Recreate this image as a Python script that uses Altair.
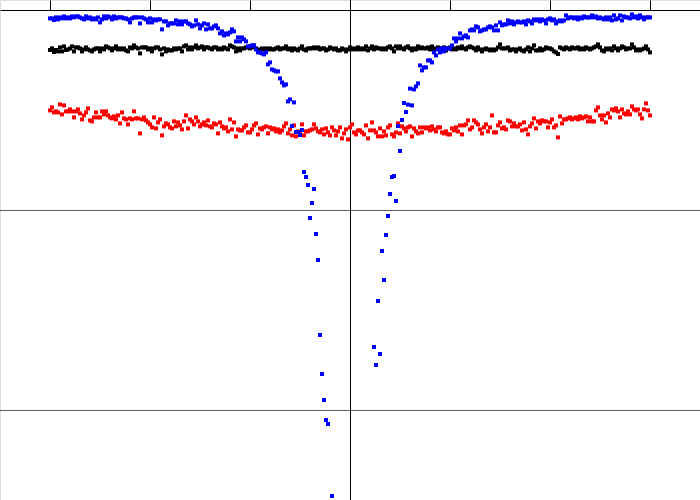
import altair as alt
import pandas as pd

# Sample grid: 301 equally spaced samples from -3 to 3
X_START = -3.0
X_STEP = 0.02

black_vals = [
    -2.0,-1.92,-2.1,-2.0,-2.07,-1.87,-2.07,-1.82,-2.0,-1.97,
    -1.92,-1.82,-2.07,-1.87,-1.87,-1.92,-2.07,-1.97,-1.87,-1.97,
    -2.02,-2.07,-1.97,-1.92,-1.92,-2.07,-1.92,-1.97,-1.82,-1.87,
    -1.92,-2.02,-1.92,-1.82,-1.97,-1.92,-1.97,-1.92,-2.02,-2.07,
    -1.87,-1.92,-1.77,-1.87,-1.92,-2.17,-1.87,-1.87,-1.87,-1.97,
    -1.92,-2.07,-1.92,-1.87,-1.87,-1.97,-2.22,-1.92,-2.07,-1.97,
    -2.02,-2.02,-1.92,-1.97,-1.92,-1.92,-2.07,-1.82,-1.77,-1.97,
    -1.87,-1.97,-1.87,-1.77,-1.92,-1.87,-1.82,-1.97,-1.87,-1.87,
    -1.92,-1.97,-1.87,-1.87,-1.97,-1.92,-1.97,-1.87,-1.92,-1.97,
    -1.77,-1.82,-1.87,-2.07,-1.92,-2.02,-1.92,-1.92,-1.87,-1.87,
    -1.92,-1.87,-1.77,-1.92,-2.07,-1.97,-1.92,-1.97,-1.92,-1.97,
    -1.92,-1.97,-1.97,-1.92,-1.87,-1.97,-1.92,-1.92,-1.82,-1.97,
    -1.92,-2.02,-1.92,-1.97,-2.02,-1.92,-1.82,-1.97,-2.02,-1.92,
    -1.92,-1.92,-1.87,-1.92,-1.87,-1.97,-1.92,-1.92,-2.02,-1.97,
    -1.87,-1.92,-1.97,-1.92,-2.02,-2.02,-1.92,-1.97,-2.07,-1.97,
    -1.87,-1.97,-1.92,-1.97,-1.87,-1.97,-1.92,-1.97,-1.82,-2.02,
    -1.92,-1.82,-1.97,-1.87,-1.92,-1.92,-1.97,-1.92,-1.97,-1.87,
    -1.82,-1.92,-2.07,-1.82,-1.92,-1.82,-1.92,-1.97,-1.87,-1.82,
    -1.92,-2.02,-1.92,-1.97,-1.82,-1.92,-1.87,-1.92,-1.92,-1.87,
    -1.97,-1.82,-1.97,-1.92,-1.87,-1.97,-1.92,-1.87,-2.02,-1.92,
    -1.87,-1.97,-1.92,-1.97,-1.87,-1.92,-1.82,-1.92,-1.97,-1.87,
    -1.82,-1.87,-1.92,-2.02,-1.87,-1.97,-2.07,-1.97,-1.92,-1.97,
    -2.02,-1.97,-2.02,-1.97,-1.87,-1.72,-1.92,-1.92,-1.92,-1.87,
    -2.02,-1.97,-1.97,-2.07,-1.97,-1.92,-2.02,-2.07,-1.97,-1.87,
    -2.07,-1.92,-1.77,-2.02,-2.02,-1.92,-2.02,-1.97,-1.87,-1.92,
    -1.92,-1.97,-2.07,-2.12,-2.2,-1.87,-1.92,-1.97,-1.87,-1.92,
    -1.97,-1.87,-1.92,-1.92,-1.87,-1.97,-1.92,-1.97,-1.87,-1.92,
    -1.97,-1.92,-1.87,-1.82,-1.72,-1.87,-2.02,-2.07,-1.92,-1.97,
    -1.92,-2.02,-1.82,-1.92,-2.02,-1.92,-1.82,-1.87,-1.97,-1.92,
    -1.92,-1.72,-1.87,-2.02,-1.97,-2.02,-1.97,-1.92,-1.82,-1.97,
    -2.12,
]

red_vals = [
    -5.02,-4.87,-5.12,-5.07,-5.12,-4.72,-5.22,-4.77,-5.07,-5.07,
    -4.97,-5.07,-5.37,-5.07,-4.97,-5.17,-5.47,-5.27,-5.12,-4.92,
    -5.52,-5.57,-5.37,-5.12,-5.37,-5.37,-5.07,-5.22,-5.07,-5.27,
    -5.37,-5.42,-5.32,-5.47,-5.27,-5.67,-5.12,-5.42,-5.47,-5.72,
    -5.42,-5.47,-5.07,-5.42,-5.42,-6.17,-5.47,-5.37,-5.52,-5.62,
    -5.72,-5.87,-5.37,-5.92,-5.62,-5.47,-6.27,-5.82,-5.67,-5.72,
    -5.87,-5.92,-5.57,-5.82,-5.62,-5.77,-5.97,-5.57,-5.27,-5.92,
    -5.47,-5.57,-5.72,-5.37,-5.57,-5.82,-5.72,-5.62,-5.77,-5.52,
    -5.82,-5.87,-5.67,-5.72,-6.17,-5.62,-5.82,-5.92,-5.87,-6.07,
    -5.47,-5.97,-5.62,-6.32,-5.97,-6.02,-6.02,-5.87,-5.77,-6.12,
    -6.12,-5.97,-5.77,-5.67,-6.22,-5.92,-5.97,-5.87,-5.82,-6.17,
    -5.87,-5.97,-5.92,-6.07,-5.97,-6.12,-6.02,-5.82,-5.67,-6.17,
    -5.97,-6.27,-5.77,-6.32,-6.07,-6.12,-5.72,-6.27,-6.07,-6.07,
    -6.02,-5.97,-5.72,-5.92,-6.07,-6.12,-5.97,-6.22,-5.92,-6.12,
    -6.27,-5.87,-6.02,-6.27,-6.07,-5.87,-6.42,-6.17,-5.97,-6.47,
    -5.87,-5.72,-6.12,-6.22,-6.02,-6.02,-6.12,-6.22,-5.77,-6.42,
    -6.02,-5.62,-6.02,-6.12,-6.32,-5.92,-6.32,-6.07,-6.27,-5.87,
    -5.77,-6.22,-6.32,-6.12,-5.67,-6.17,-5.82,-5.92,-6.07,-5.87,
    -5.82,-6.32,-5.92,-6.07,-6.17,-5.87,-6.12,-5.87,-5.92,-5.87,
    -6.02,-5.82,-5.97,-6.07,-5.87,-5.87,-6.12,-6.17,-6.07,-6.22,
    -6.22,-5.92,-6.02,-5.87,-6.07,-5.77,-6.22,-5.77,-5.72,-5.52,
    -5.97,-5.87,-5.52,-5.62,-5.72,-5.97,-6.17,-5.87,-5.72,-6.07,
    -5.87,-5.27,-6.12,-6.12,-5.77,-5.62,-5.92,-5.87,-5.97,-5.52,
    -5.57,-5.82,-5.67,-5.82,-5.82,-5.72,-6.02,-5.62,-5.97,-6.22,
    -5.82,-5.67,-5.42,-5.92,-5.57,-5.67,-5.52,-5.57,-5.57,-5.87,
    -5.62,-5.47,-5.87,-5.77,-6.37,-5.32,-5.67,-5.47,-5.47,-5.42,
    -5.37,-5.47,-5.42,-5.37,-5.47,-5.32,-5.42,-5.37,-5.32,-5.57,
    -5.37,-5.57,-5.57,-5.02,-4.87,-5.27,-5.47,-5.27,-5.62,-5.17,
    -5.37,-4.97,-5.02,-4.92,-5.07,-5.37,-4.97,-5.17,-5.22,-5.07,
    -5.22,-4.82,-4.97,-5.02,-4.97,-5.22,-5.42,-4.97,-4.67,-5.02,
    -5.27,
]

blue_vals = [
    -0.42,-0.42,-0.5,-0.37,-0.47,-0.37,-0.42,-0.32,-0.42,-0.37,
    -0.42,-0.32,-0.37,-0.32,-0.32,-0.37,-0.42,-0.47,-0.32,-0.42,
    -0.37,-0.47,-0.42,-0.47,-0.37,-0.62,-0.47,-0.32,-0.42,-0.32,
    -0.37,-0.47,-0.32,-0.42,-0.37,-0.37,-0.37,-0.42,-0.42,-0.47,
    -0.62,-0.42,-0.37,-0.37,-0.37,-0.67,-0.37,-0.42,-0.47,-0.62,
    -0.42,-0.62,-0.47,-0.52,-0.47,-0.47,-0.97,-0.57,-0.57,-0.77,
    -0.67,-0.67,-0.67,-0.52,-0.72,-0.57,-0.72,-0.57,-0.57,-0.67,
    -0.72,-0.82,-0.77,-0.52,-0.72,-0.92,-0.77,-0.67,-0.97,-0.72,
    -0.92,-0.92,-0.82,-0.77,-0.92,-1.17,-1.07,-1.27,-1.17,-1.22,
    -1.12,-0.97,-1.07,-1.57,-1.37,-1.57,-1.37,-1.47,-1.57,-1.82,
    -1.82,-1.77,-1.77,-1.97,-2.12,-2.12,-2.17,-2.22,-2.12,-2.72,
    -2.62,-2.97,-3.02,-3.07,-3.07,-3.42,-3.62,-3.77,-3.72,-4.57,
    -4.47,
    -5.8,-4.62,-6.1,-6.1,-6.25,-6.0,-8.1,-8.35,-8.75,-10.4,
    -9.65,-8.95,-11.2,-12.5,-16.25,-18.2,-19.5,-20.5,-20.7,-25.5,
    -24.3,
    -26.0,-27.0,-28.5,-30.0,-31.5,-33.0,-35.0,-37.0,-40.0,-45.0,
    -50.0,-45.0,-40.0,-36.0,-33.0,-31.0,-29.0,-27.5,-26.0,-25.2,
    -16.85,-17.75,-14.55,-17.2,-12.05,-13.5,-11.25,-10.3,-9.2,-8.35,
    -8.3,-9.55,-5.8,-7.05,-5.5,-4.65,-5.1,-4.73,-3.93,-4.77,
    -3.97,-3.82,-3.67,-2.77,-3.02,-2.87,-2.87,-2.52,-2.52,-2.62,
    -2.12,-2.27,-1.97,-2.12,-1.92,-2.07,-1.92,-1.92,-1.92,-1.77,
    -1.42,-1.57,-1.42,-1.17,-1.42,-1.32,-1.27,-1.37,-1.02,-0.97,
    -1.02,-0.82,-0.87,-1.07,-1.02,-0.97,-0.97,-0.87,-0.82,-0.87,
    -1.02,-0.77,-1.02,-0.62,-0.77,-0.72,-0.72,-0.52,-0.67,-0.57,
    -0.72,-0.62,-0.57,-0.62,-0.62,-0.57,-0.72,-0.52,
    -0.57,-0.67,-0.47,-0.52,-0.47,-0.57,-0.47,-0.52,-0.67,-0.47,
    -0.42,-0.52,-0.47,-0.67,-0.57,-0.52,-0.57,-0.52,-0.27,-0.42,
    -0.37,-0.37,-0.42,-0.37,-0.47,-0.37,-0.42,-0.32,-0.37,-0.37,
    -0.37,-0.27,-0.37,-0.32,-0.42,-0.37,-0.42,-0.47,-0.37,-0.47,
    -0.37,-0.52,-0.27,-0.47,-0.42,-0.27,-0.52,-0.32,-0.37,-0.37,
    -0.42,-0.22,-0.37,-0.32,-0.42,-0.27,-0.37,-0.47,-0.37,-0.37,
    -0.37,
]

series_names = ["black", "red", "blue"]
series_colors = ["#000000", "#ff0000", "#0000ff"]
x_ticks = [-3, -2, -1, 0, 1, 2, 3]
grid_levels = [-10, -20]
zero_line = [0]

rows = []
for name, vals in zip(series_names, [black_vals, red_vals, blue_vals]):
    for i, v in enumerate(vals):
        rows.append({"x": round(X_START + X_STEP * i, 2), "y": v, "series": name})
points_df = pd.DataFrame(rows)

x_scale = alt.Scale(domain=[-3.5, 3.5], nice=False, zero=False)
y_scale = alt.Scale(domain=[-24.5, 0.5], nice=False, zero=False)
x_axis = alt.Axis(orient="top", offset=-10, values=x_ticks, labels=False,
                  ticks=True, tickSize=10, tickColor="#000000", tickWidth=1,
                  domainColor="#000000", domainWidth=1, grid=False, title=None)

grid = alt.Chart(pd.DataFrame({"y": grid_levels})).mark_rule(
    color="#606060", strokeWidth=1, yOffset=0.5
).encode(y=alt.Y("y:Q", scale=y_scale, axis=None))

vline = alt.Chart(pd.DataFrame({"x": zero_line})).mark_rule(
    color="#000000", strokeWidth=1, xOffset=0.5
).encode(x=alt.X("x:Q", scale=x_scale, axis=x_axis))

points = alt.Chart(points_df).mark_square(size=16, opacity=1, filled=True, clip=True).encode(
    x=alt.X("x:Q", scale=x_scale, axis=x_axis),
    y=alt.Y("y:Q", scale=y_scale, axis=None),
    color=alt.Color("series:N", scale=alt.Scale(domain=series_names, range=series_colors), legend=None),
    order=alt.Order("order:Q"),
).transform_calculate(
    order="datum.series == 'black' ? 0 : (datum.series == 'red' ? 1 : 2)"
)

chart = alt.layer(grid, vline, points).properties(
    width=700, height=500,
    autosize=alt.AutoSizeParams(type="none"),
    padding=0,
).configure_view(strokeWidth=0).configure(background="white")

chart.save("out.html", embed_options={"renderer": "svg", "actions": False})
